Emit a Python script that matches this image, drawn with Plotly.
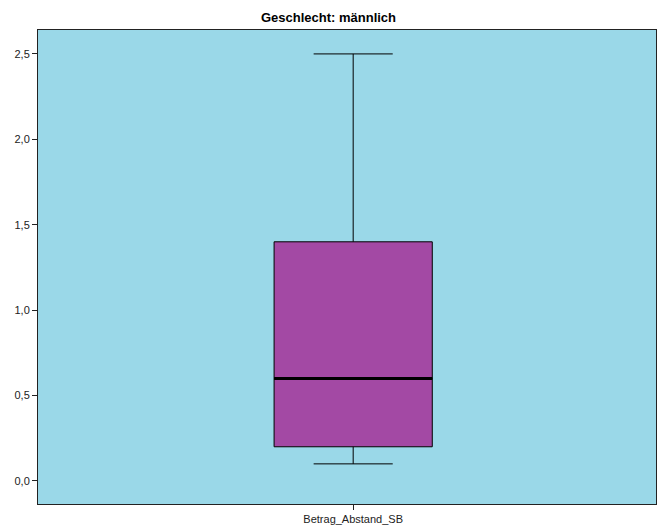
import plotly.graph_objects as go

# Summary statistics for the boxplot
variable = ["Betrag_Abstand_SB"]
lower_whisker = [0.1]
q1 = [0.2]
median = [0.6]
q3 = [1.4]
upper_whisker = [2.5]
y_ticks = [0.0, 0.5, 1.0, 1.5, 2.0, 2.5]

box_width = 0.256
pos = [0]

fig = go.Figure()
fig.add_trace(go.Box(
    x=pos,
    q1=q1, median=median, q3=q3,
    lowerfence=lower_whisker, upperfence=upper_whisker,
    width=box_width,
    whiskerwidth=0.5,
    fillcolor="#A349A4",
    line=dict(color="black", width=1),
    hoverinfo="skip",
    showlegend=False,
))

# Thick median line drawn over the box
for p, m in zip(pos, median):
    fig.add_shape(type="line", xref="x", yref="y",
                  x0=p - box_width / 2, x1=p + box_width / 2, y0=m, y1=m,
                  line=dict(color="black", width=3), layer="above")

axis_font = dict(family="Liberation Sans, Arial, sans-serif", size=11, color="#222")

fig.update_layout(
    width=657, height=529,
    margin=dict(l=38, r=1, t=30, b=25),
    paper_bgcolor="white",
    plot_bgcolor="#9AD8E8",
    separators=",.",
    title=dict(text="<b>Geschlecht: männlich</b>",
               font=dict(family="Liberation Sans Narrow, Arial Narrow, Liberation Sans, sans-serif",
                         size=13, color="black"),
               x=0.5, xref="container", xanchor="center",
               y=1 - 17 / 529, yref="container", yanchor="middle"),
    xaxis=dict(range=[-0.51, 0.49], tickvals=pos, ticktext=variable,
               ticks="outside", ticklen=5, tickcolor="#222",
               showgrid=False, zeroline=False,
               showline=True, linecolor="#222", linewidth=1, mirror=True,
               tickfont=axis_font),
    yaxis=dict(range=[-0.135, 2.64], tickvals=y_ticks, tickformat=".1f",
               ticks="outside", ticklen=5, tickcolor="#222",
               showgrid=False, zeroline=False,
               showline=True, linecolor="#222", linewidth=1, mirror=True,
               tickfont=axis_font),
)

fig.write_html("out.html")
